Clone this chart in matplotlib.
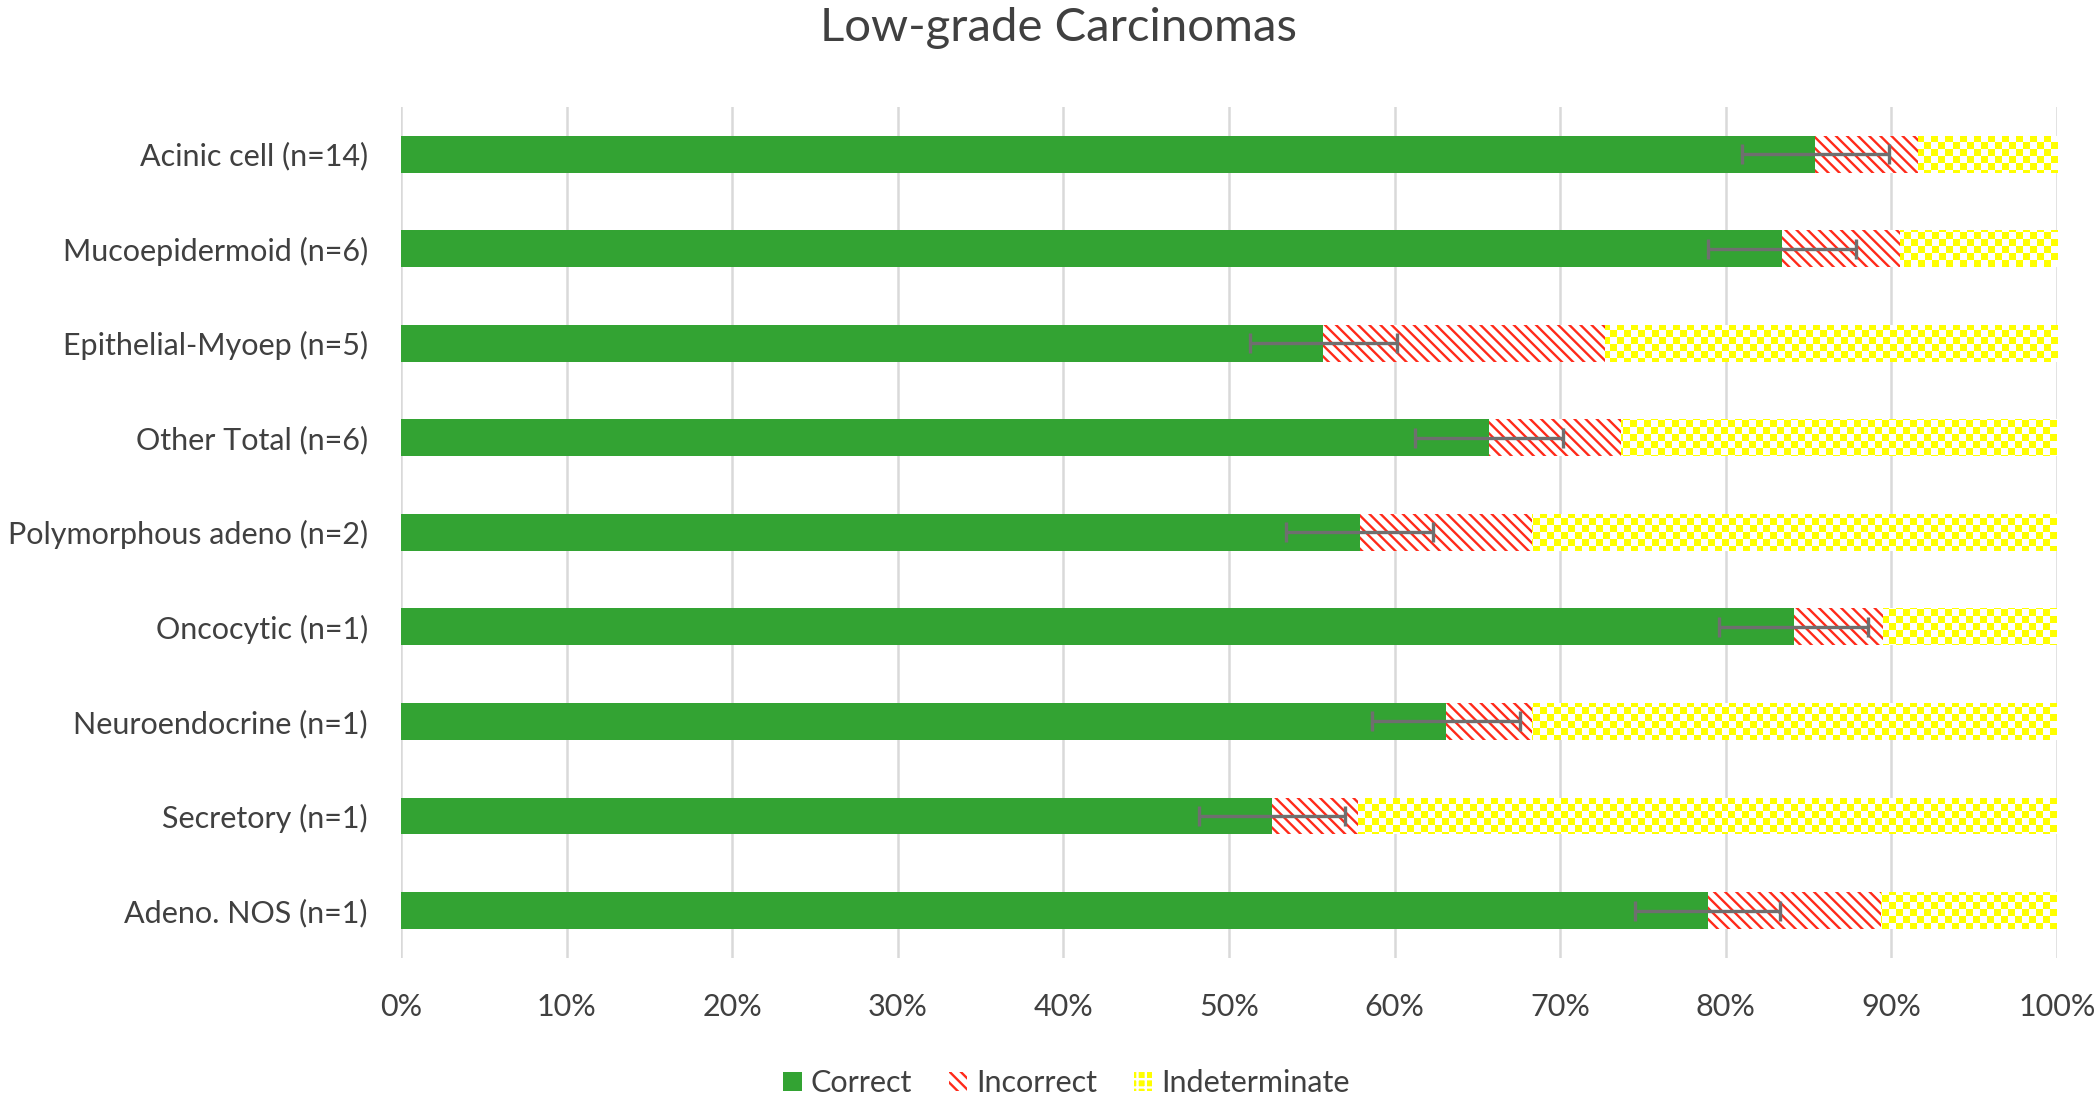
import numpy as np
import matplotlib
matplotlib.use("Agg")
import matplotlib.pyplot as plt
from matplotlib.colors import ListedColormap
from matplotlib.patches import Patch

plt.rcParams['font.family'] = ['Lato', 'DejaVu Sans']
plt.rcParams['hatch.linewidth'] = 1.7

categories = ['Acinic cell (n=14)', 'Mucoepidermoid (n=6)', 'Epithelial-Myoep (n=5)',
              'Other Total (n=6)', 'Polymorphous adeno (n=2)', 'Oncocytic (n=1)',
              'Neuroendocrine (n=1)', 'Secretory (n=1)', 'Adeno. NOS (n=1)']
correct = [85.4, 83.4, 55.7, 65.7, 57.9, 84.1, 63.1, 52.6, 78.9]
incorrect = [6.2, 7.1, 17.0, 8.0, 10.4, 5.4, 5.2, 5.2, 10.5]
indeterminate = [8.4, 9.5, 27.3, 26.3, 31.7, 10.5, 31.7, 42.2, 10.6]
err = [4.45, 4.48, 4.46, 4.45, 4.43, 4.5, 4.48, 4.43, 4.4]
xticks = list(range(0, 101, 10))

green = '#33A333'
red = '#FF2A1A'
yellow = '#FFFF00'
txt = '#404040'

fig = plt.figure(figsize=(21, 11.01), dpi=100)
ax = fig.add_axes([0.191, 0.130, 0.7885, 0.773])

y = np.arange(len(categories))
h = 0.39
ax.barh(y, correct, height=h, color=green, lw=0, zorder=3)
ax.barh(y, incorrect, left=correct, height=h, facecolor='white',
        edgecolor=red, hatch='\\\\\\', lw=0, zorder=3)
left2 = np.add(correct, incorrect)
ind = ax.barh(y, indeterminate, left=left2, height=h, color=yellow, lw=0, zorder=3)

# small checkerboard texture for the indeterminate segments
ii, jj = np.indices((122, 237))
checker = (ii + jj) % 2
for rect in ind:
    im = ax.imshow(checker, extent=[0, 100, 8.5, -0.5], aspect='auto',
                   interpolation='nearest', cmap=ListedColormap(['white', yellow]),
                   zorder=3.5)
    im.set_clip_path(rect)

ax.errorbar(correct, y, xerr=err, fmt='none', ecolor='#6F6F6F', elinewidth=2.4,
            capsize=7, capthick=2.4, zorder=5)

ax.set_xlim(0, 100)
ax.set_ylim(8.5, -0.5)
ax.set_xticks(xticks)
ax.set_xticklabels([f'{v}%' for v in xticks])
ax.set_yticks(y)
ax.set_yticklabels(categories)
ax.xaxis.grid(True, color='#D9D9D9', lw=1.8)
ax.set_axisbelow(True)
for s in ax.spines.values():
    s.set_visible(False)
ax.tick_params(axis='x', length=0, pad=25, labelsize=22, labelcolor=txt)
ax.tick_params(axis='y', length=0, pad=24, labelsize=22, labelcolor=txt)

fig.text(0.504, 0.975, 'Low-grade Carcinomas', ha='center', va='center',
         fontsize=34, color=txt)

handles = [Patch(facecolor=green, lw=0),
           Patch(facecolor='white', edgecolor=red, hatch='\\\\\\', lw=0),
           Patch(facecolor=yellow, edgecolor='white', hatch='++', lw=0)]
fig.legend(handles, ['Correct', 'Incorrect', 'Indeterminate'], loc='center',
           bbox_to_anchor=(0.508, 0.016), ncol=3, frameon=False, fontsize=22,
           handlelength=0.6, handleheight=0.6, handletextpad=0.3,
           columnspacing=1.2, labelcolor=txt)

fig.savefig('out.png', dpi=100)
